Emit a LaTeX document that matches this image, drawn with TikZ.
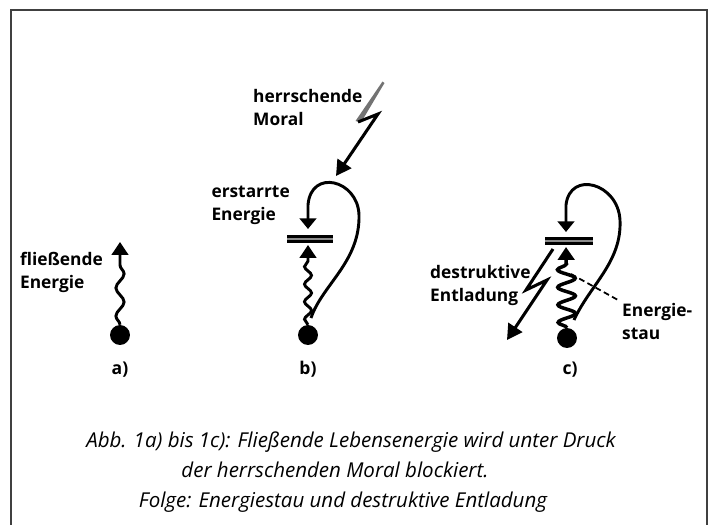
\documentclass[tikz,border=0pt]{standalone}
\usepackage{fontspec}
\setmainfont{Open Sans}
\usetikzlibrary{arrows.meta,calc,decorations.pathmorphing}
\tikzset{
  frame/.style = {
    line width=1.6pt, black!75
  },
  ball/.style = {
    circle, fill=black, inner sep=0pt, minimum size=17pt
  },
  flow/.style = {
    -{Triangle[width=14pt,length=11pt]},
    line width=2.5pt,
    decorate,
    decoration={snake, amplitude=3.5pt, segment length=24pt, post length=13pt}
  },
  loopback/.style = {
    -{Triangle[width=14pt,length=9pt]},
    line width=2.5pt
  },
  bolt/.style = {
    -{Triangle[width=14pt,length=13pt]},
    line width=2.6pt, line join=miter
  },
  bar/.style = {
    double=black!45, double distance=1.2pt, line width=3pt
  },
  stau/.style = {
    line width=1.5pt, dash pattern=on 5pt off 3pt
  },
  lbl/.style = {
    font=\bfseries\fontsize{14.8}{19.5}\selectfont, align=left, inner sep=0pt
  },
  tag/.style = {
    font=\bfseries\fontsize{15}{18}\selectfont, inner sep=0pt, anchor=base
  },
  capline/.style = {
    font=\itshape\fontsize{17.5}{25}\selectfont, inner sep=0pt, anchor=base
  }
}

\begin{document}
\begin{tikzpicture}[x=0.03cm,y=-0.03cm]
\useasboundingbox (0,0) rectangle (715,525);
\draw[frame] (11,525) -- (11,10) -- (707,10) -- (707,525);

% a) flowing energy
\node[ball] (ballA) at (120,335) {};
\coordinate (tipA) at (120,242);
\draw[flow] (ballA.north) -- (tipA);
\node[lbl, anchor=north east] (flowtxt) at (103,252) {fließende\\Energie};
\node[tag] (tagA) at (120,374) {a)};

% b) frozen energy
\node[ball] (ballB) at (308,335) {};
\coordinate (barB) at (310,239);
\draw[bar] ($(barB)+(-23,0)$) -- ($(barB)+(23,0)$);
\coordinate (tipB) at (308,245);
\draw[flow, decoration={snake, amplitude=3pt, segment length=15pt, post length=12pt}]
  (ballB.north) -- (tipB);
\coordinate (loopB) at (311,318);
\coordinate (downB) at (308,229);
\draw[loopback] (loopB) .. controls (322,285) and (360,262) .. (359,215)
  .. controls (358,180) and (311,168) .. (308,205) -- (downB);
% lightning from above
\coordinate (boltB) at (358,122);
\coordinate (zigB) at (378,114);
\coordinate (hitB) at (336,176);
\fill[black!55] (382.5,81.5) -- (384.5,83) -- (361,122.5) -- (355.5,121) -- cycle;
\draw[bolt] (boltB) -- (zigB) -- (hitB);
\node[lbl, anchor=north west] (moraltxt) at (253,89) {herrschende\\Moral};
\node[lbl, anchor=north east] (frozentxt) at (290,186) {erstarrte\\Energie};
\node[tag] (tagB) at (308,374) {b)};

% c) jam and discharge
\node[ball] (ballC) at (567,338) {};
\coordinate (barC) at (569,241);
\draw[bar] ($(barC)+(-24,0)$) -- ($(barC)+(24,0)$);
\coordinate (tipC) at (566,247);
\draw[flow, line width=3pt, decoration={snake, amplitude=7.5pt, segment length=15pt, post length=11pt}]
  (ballC.north) -- (tipC);
\coordinate (loopC) at (574,320);
\coordinate (downC) at (566,232);
\draw[loopback] (loopC) .. controls (590,285) and (622,262) .. (620,220)
  .. controls (618,183) and (570,170) .. (566,205) -- (downC);
% discharge
\coordinate (boltC) at (553,249);
\coordinate (kinkC) at (526,290);
\coordinate (zigC) at (547,280);
\coordinate (hitC) at (507,340);
\draw[bolt] (boltC) -- (kinkC) -- (zigC) -- (hitC);
\node[lbl, anchor=north west] (disctxt) at (430,265) {destruktive\\Entladung};
\node[lbl, anchor=north west] (stautxt) at (622,303) {Energie-\\stau};
\coordinate (stauC) at (571,274);
\draw[stau] (stauC) -- ($(stautxt.north west)+(-4,-3)$);
\node[tag] (tagC) at (570,374) {c)};

% caption
\node[capline] (cap1) at (351,447) {Abb. 1a) bis 1c): Fließende Lebensenergie wird unter Druck};
\node[capline] (cap2) at (335,477) {der herrschenden Moral blockiert.};
\node[capline] (cap3) at (343,507) {Folge: Energiestau und destruktive Entladung};
\end{tikzpicture}
\end{document}
